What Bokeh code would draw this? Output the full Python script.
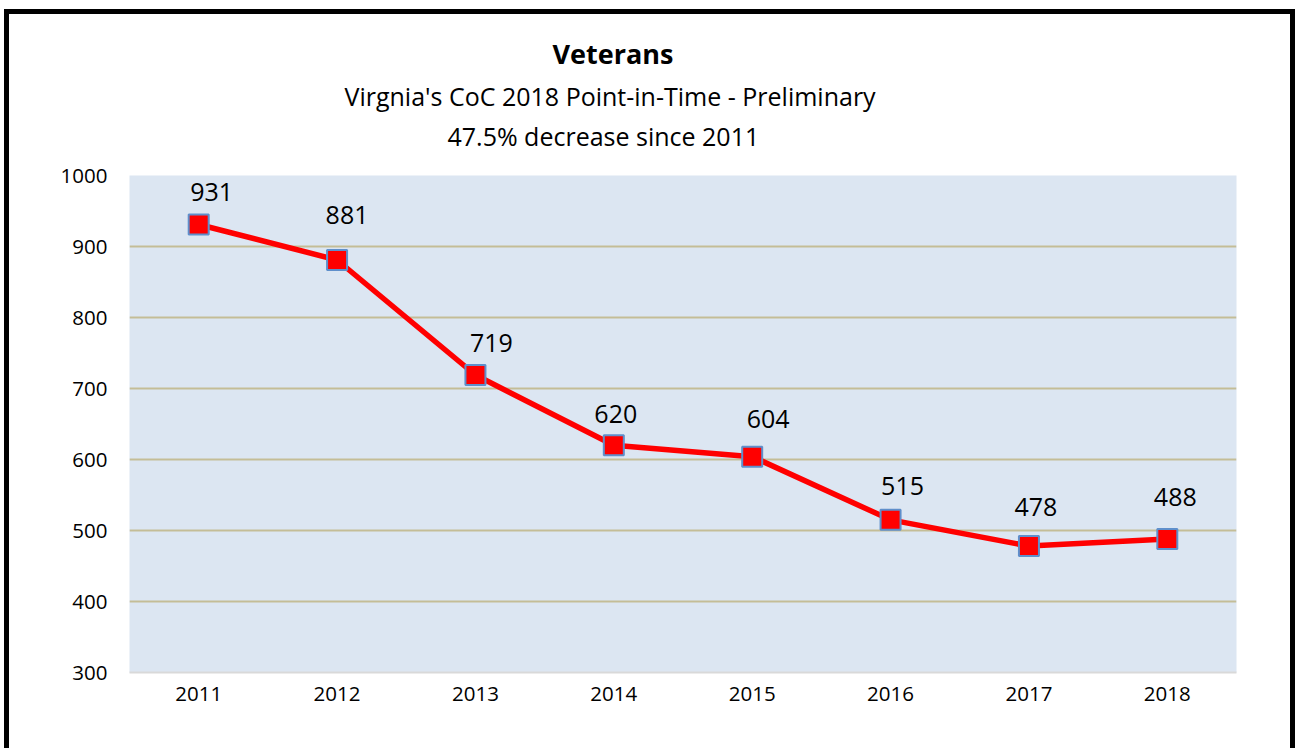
from bokeh.plotting import figure
from bokeh.models import (Range1d, FixedTicker, Title, LabelSet, ColumnDataSource)
from bokeh.core.properties import value
from bokeh.embed import file_html
from bokeh.resources import INLINE

# ---- data ----
years = ["2011", "2012", "2013", "2014", "2015", "2016", "2017", "2018"]
veterans = [931, 881, 719, 620, 604, 515, 478, 488]
y_ticks = [300, 400, 500, 600, 700, 800, 900, 1000]
title_text = "Veterans"
subtitle_1 = "Virgnia's CoC 2018 Point-in-Time - Preliminary"
subtitle_2 = "47.5% decrease since 2011"

# label placement (screen px, style only)
label_dx = [13, 10, 16, 2, 16, 12, 7, 8]
label_dy = [23, 36, 23, 22, 29, 25, 30, 33]

FONT = "Open Sans"

p = figure(
    x_range=years,
    y_range=Range1d(300, 1000),
    frame_width=1107, frame_height=497,
    min_border_left=120, min_border_right=54,
    min_border_top=161, min_border_bottom=76,
    output_backend="svg", toolbar_location=None,
    background_fill_color="#DCE6F2",
    border_fill_color="white",
)
p.outline_line_color = None
p.styles = {"border-left": "5px solid black",
            "border-top": "5px solid black",
            "border-right": "5px solid black",
            "margin-left": "4px", "margin-top": "9px"}

# grid
p.xgrid.grid_line_color = None
p.ygrid.ticker = FixedTicker(ticks=y_ticks[1:])
p.ygrid.grid_line_color = "#C4BD97"
p.ygrid.grid_line_width = 2

# axes
p.yaxis.ticker = FixedTicker(ticks=y_ticks)
p.yaxis.axis_line_color = None
p.yaxis.major_tick_line_color = None
p.yaxis.minor_tick_line_color = None
p.yaxis.major_tick_out = 0
p.yaxis.major_label_standoff = 22
p.yaxis.major_label_text_font = FONT
p.yaxis.major_label_text_font_size = "20.5px"
p.yaxis.major_label_text_color = "black"

p.xaxis.axis_line_color = "#D9D9D9"
p.xaxis.axis_line_width = 2
p.xaxis.major_tick_line_color = None
p.xaxis.major_tick_out = 0
p.xaxis.major_label_standoff = 14
p.xaxis.major_label_text_font = FONT
p.xaxis.major_label_text_font_size = "20.5px"
p.xaxis.major_label_text_color = "black"

src = ColumnDataSource(dict(year=years, value=veterans,
                            label=[str(v) for v in veterans],
                            dx=label_dx, dy=label_dy))

p.line("year", "value", source=src, line_color="#FF0000", line_width=5.5)
p.scatter("year", "value", source=src, marker="square", size=20,
          fill_color="#FF0000", line_color="#5F8FCB", line_width=2)

labels = LabelSet(x="year", y="value", text="label", source=src,
                  x_offset="dx", y_offset="dy",
                  text_align="center", text_baseline="alphabetic",
                  text_font=value(FONT), text_font_size="25px", text_color="black")
p.add_layout(labels)

# titles: p.title is outermost; added titles stack from the frame outward
p.title.text = title_text
p.title.align = "left"
p.title.offset = 423
p.title.standoff = 2
p.title.text_font = FONT
p.title.text_font_size = "27px"
p.title.text_font_style = "bold"
p.title.text_color = "black"

# invisible spacer between frame and subtitles
p.add_layout(Title(text=" ", align="left", standoff=20, text_font_size="1px"), "above")
p.add_layout(Title(text=subtitle_2, align="left", offset=318, standoff=0,
                   text_font=FONT, text_font_size="25px", text_font_style="normal",
                   text_color="black"), "above")
p.add_layout(Title(text=subtitle_1, align="left", offset=215, standoff=8,
                   text_font=FONT, text_font_size="25px", text_font_style="normal",
                   text_color="black"), "above")

open("out.html", "w").write(file_html(p, INLINE))
